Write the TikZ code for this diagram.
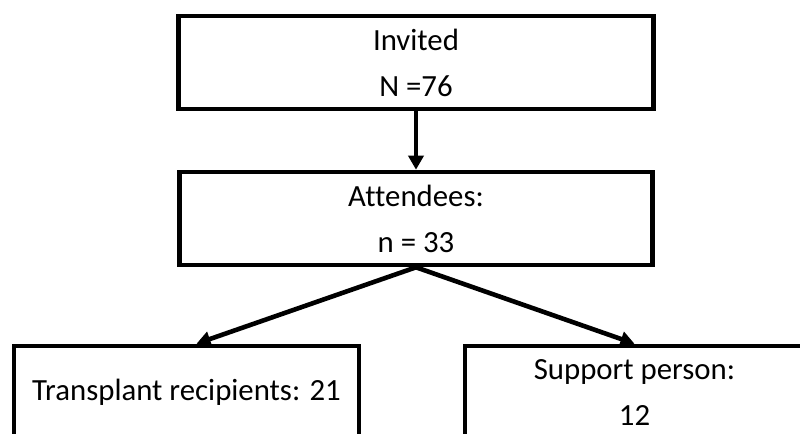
\documentclass[tikz,border=0pt]{standalone}
\usepackage{fontspec}
\setmainfont[Ligatures=NoCommon]{Carlito}
\usepackage{tikz}
\usetikzlibrary{arrows.meta, positioning, calc}

\tikzset{
	flowbox/.style={draw=black, line width=2.3pt, fill=white, inner sep=0pt, align=center,
		minimum height=46.5pt, font=\fontsize{15.4}{23}\selectfont},
	flowarrow/.style={line width=2.3pt, -{Triangle[length=7pt,width=7.5pt]}}
}

\begin{document}
\begin{tikzpicture}[x=0.5pt, y=-0.5pt]
		\useasboundingbox (0,0) rectangle (800,434);
		% counts
		\node[flowbox, minimum width=237.5pt] (invited) at (416,62.5) {Invited\\N =76};
		\node[flowbox, minimum width=236.5pt] (attendees) at (416,218.5) {Attendees:\\n = 33};
		\node[flowbox, minimum width=172.5pt] (recipients) at (186.5,392.5) {Transplant recipients: 21};
		\node[flowbox, minimum width=169.5pt] (support) at (634.5,392.5) {Support person:\\12};
		% arrows
		\draw[flowarrow] (invited.south) -- (attendees.north);
		\draw[flowarrow] (attendees.south) -- ([xshift=5pt]recipients.north);
		\draw[flowarrow] (attendees.south) -- (support.north);
	\end{tikzpicture}
\end{document}
